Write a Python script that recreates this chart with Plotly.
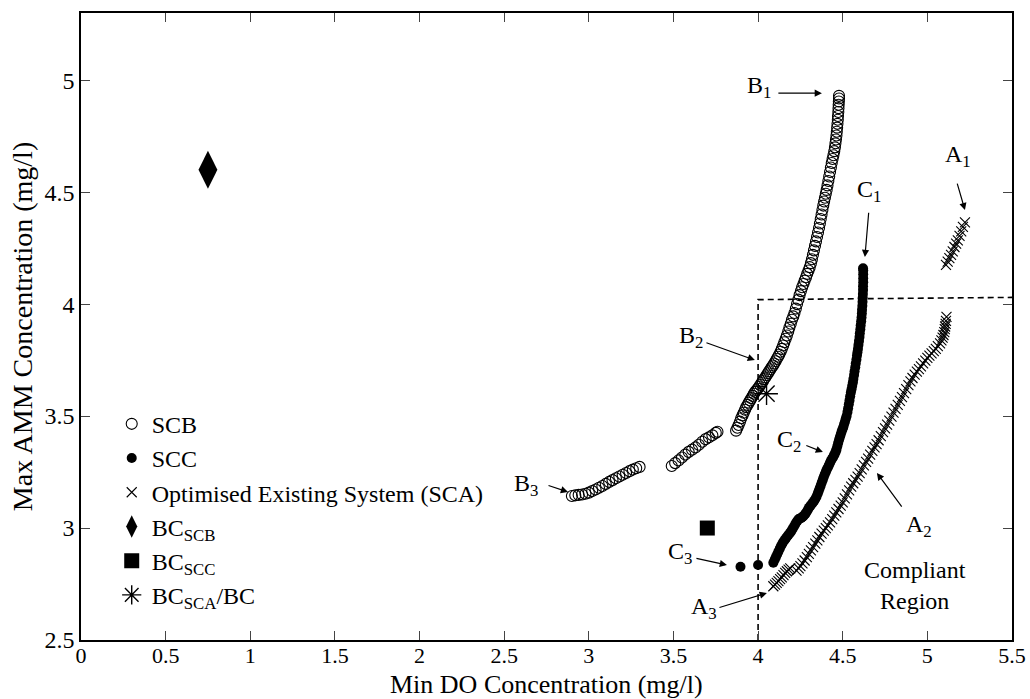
import plotly.graph_objects as go

# ---------------- data ----------------
# SCB: open circles (three clusters along the curve B3 -> B2 -> B1)
SCB_X = [2.90, 2.92, 2.94, 2.96, 2.98, 3.00, 3.02, 3.04, 3.06, 3.08, 3.10, 3.12, 3.14, 3.16, 3.18, 3.20, 3.22, 3.24, 3.26, 3.28, 3.30,
         3.49, 3.51, 3.53, 3.55, 3.57, 3.59, 3.61, 3.63, 3.65, 3.67, 3.69, 3.71, 3.73, 3.75, 3.76,
         3.870, 3.878, 3.885, 3.893, 3.900, 3.908, 3.915, 3.923, 3.930, 3.938, 3.945, 3.953, 3.960, 3.968, 3.975, 3.983,
         3.990, 3.998, 4.005, 4.013, 4.020, 4.028, 4.035, 4.043, 4.050, 4.058, 4.065, 4.073, 4.080, 4.088, 4.095, 4.103,
         4.110, 4.118, 4.125, 4.133, 4.140, 4.148, 4.155, 4.163, 4.170, 4.178, 4.185, 4.193, 4.200, 4.208, 4.215, 4.223,
         4.230, 4.238, 4.245, 4.253, 4.260, 4.268, 4.275, 4.283, 4.290, 4.298, 4.305, 4.312, 4.318, 4.324, 4.330, 4.336,
         4.342, 4.348, 4.354, 4.360, 4.365, 4.370, 4.375, 4.380, 4.385, 4.390, 4.395, 4.400, 4.405, 4.410, 4.415, 4.420,
         4.425, 4.430, 4.435, 4.440, 4.445, 4.450, 4.454, 4.457, 4.460, 4.463, 4.465, 4.467, 4.469, 4.471, 4.472, 4.474,
         4.475, 4.476, 4.477, 4.478, 4.478]
SCB_Y = [3.143, 3.146, 3.148, 3.150, 3.153, 3.158, 3.165, 3.172, 3.180, 3.188, 3.197, 3.206, 3.214, 3.222, 3.230, 3.238, 3.246, 3.254, 3.261, 3.267, 3.273,
         3.277, 3.290, 3.302, 3.315, 3.328, 3.340, 3.350, 3.360, 3.372, 3.385, 3.397, 3.405, 3.414, 3.425, 3.430,
         3.435, 3.448, 3.460, 3.475, 3.490, 3.503, 3.515, 3.528, 3.540, 3.550, 3.560, 3.570, 3.580, 3.590, 3.600, 3.608,
         3.615, 3.622, 3.630, 3.639, 3.648, 3.656, 3.665, 3.673, 3.682, 3.691, 3.700, 3.709, 3.718, 3.726, 3.735, 3.745,
         3.755, 3.765, 3.775, 3.787, 3.800, 3.815, 3.830, 3.845, 3.860, 3.878, 3.895, 3.912, 3.930, 3.945, 3.960, 3.980,
         4.000, 4.020, 4.040, 4.058, 4.075, 4.090, 4.105, 4.120, 4.135, 4.150, 4.165, 4.183, 4.200, 4.220, 4.240, 4.260,
         4.280, 4.300, 4.320, 4.340, 4.360, 4.380, 4.400, 4.420, 4.440, 4.458, 4.475, 4.493, 4.510, 4.530, 4.550, 4.570,
         4.590, 4.610, 4.630, 4.648, 4.665, 4.683, 4.700, 4.718, 4.735, 4.753, 4.770, 4.788, 4.805, 4.823, 4.840, 4.858,
         4.875, 4.890, 4.905, 4.918, 4.930]

# SCC: filled dots (two isolated points near C3, then the curve up to C1)
SCC_X = [3.896, 4.000,
         4.090, 4.098, 4.105, 4.113, 4.120, 4.128, 4.135, 4.143, 4.150, 4.158, 4.165, 4.173, 4.180, 4.188, 4.195, 4.203,
         4.210, 4.218, 4.225, 4.233, 4.240, 4.248, 4.255, 4.263, 4.270, 4.278, 4.285, 4.293, 4.300, 4.308, 4.315, 4.323,
         4.330, 4.338, 4.345, 4.352, 4.358, 4.364, 4.370, 4.376, 4.382, 4.388, 4.394, 4.400, 4.405, 4.412, 4.418, 4.424,
         4.430, 4.436, 4.442, 4.447, 4.452, 4.458, 4.463, 4.468, 4.473, 4.478, 4.483, 4.488, 4.493, 4.498, 4.503, 4.508,
         4.513, 4.518, 4.523, 4.528, 4.532, 4.536, 4.540, 4.544, 4.548, 4.552, 4.556, 4.560, 4.563, 4.567, 4.570, 4.574,
         4.577, 4.581, 4.584, 4.587, 4.590, 4.593, 4.596, 4.599, 4.601, 4.604, 4.606, 4.609, 4.611, 4.613, 4.614, 4.616,
         4.617, 4.618, 4.619, 4.620, 4.620, 4.621, 4.621, 4.621, 4.621, 4.620]
SCC_Y = [2.827, 2.835,
         2.845, 2.858, 2.870, 2.883, 2.895, 2.908, 2.920, 2.930, 2.940, 2.948, 2.955, 2.963, 2.970, 2.978, 2.985, 2.995,
         3.005, 3.015, 3.025, 3.033, 3.040, 3.043, 3.045, 3.050, 3.055, 3.062, 3.070, 3.080, 3.090, 3.098, 3.105, 3.113,
         3.120, 3.130, 3.140, 3.153, 3.165, 3.178, 3.190, 3.203, 3.215, 3.228, 3.240, 3.250, 3.260, 3.270, 3.280, 3.290,
         3.300, 3.308, 3.315, 3.323, 3.330, 3.340, 3.350, 3.365, 3.380, 3.393, 3.405, 3.418, 3.430, 3.440, 3.450, 3.463,
         3.475, 3.488, 3.500, 3.518, 3.535, 3.553, 3.570, 3.588, 3.605, 3.620, 3.635, 3.650, 3.665, 3.683, 3.700, 3.718,
         3.735, 3.753, 3.770, 3.785, 3.800, 3.818, 3.835, 3.853, 3.870, 3.888, 3.905, 3.923, 3.940, 3.958, 3.975, 3.993,
         4.010, 4.028, 4.045, 4.063, 4.080, 4.098, 4.115, 4.133, 4.150, 4.160]

# SCA: crosses (A3 cluster, main A2 curve, A1 cluster)
SCA_X = [4.090, 4.100, 4.110, 4.120, 4.130, 4.140, 4.150, 4.160, 4.170, 4.180, 4.190,
         4.227, 4.240, 4.250, 4.262, 4.275, 4.288, 4.300, 4.312, 4.325, 4.338, 4.350, 4.362, 4.375, 4.388, 4.400, 4.412,
         4.425, 4.438, 4.450, 4.462, 4.475, 4.488, 4.500, 4.512, 4.525, 4.538, 4.550, 4.562, 4.575, 4.588, 4.600, 4.612,
         4.625, 4.638, 4.650, 4.662, 4.675, 4.688, 4.700, 4.712, 4.725, 4.738, 4.750, 4.762, 4.775, 4.788, 4.800, 4.812,
         4.825, 4.838, 4.850, 4.862, 4.875, 4.888, 4.900, 4.912, 4.925, 4.938, 4.950, 4.962, 4.975, 4.988, 5.000, 5.012,
         5.025, 5.038, 5.050, 5.062, 5.075, 5.083, 5.090, 5.095, 5.100, 5.103, 5.105, 5.108, 5.110, 5.113,
         5.110, 5.120, 5.130, 5.140, 5.150, 5.160, 5.170, 5.180, 5.190, 5.200, 5.210, 5.222]
SCA_Y = [2.740, 2.747, 2.755, 2.763, 2.772, 2.780, 2.790, 2.800, 2.807, 2.814, 2.820,
         2.810, 2.820, 2.830, 2.842, 2.855, 2.870, 2.885, 2.900, 2.915, 2.930, 2.945, 2.960, 2.975, 2.988, 3.000, 3.012,
         3.025, 3.040, 3.055, 3.070, 3.085, 3.100, 3.115, 3.132, 3.150, 3.168, 3.185, 3.200, 3.215, 3.230, 3.245, 3.262,
         3.280, 3.295, 3.310, 3.328, 3.345, 3.360, 3.375, 3.392, 3.410, 3.428, 3.445, 3.462, 3.480, 3.498, 3.515, 3.532,
         3.550, 3.568, 3.585, 3.602, 3.620, 3.638, 3.655, 3.670, 3.685, 3.698, 3.710, 3.722, 3.735, 3.748, 3.760, 3.770,
         3.780, 3.790, 3.800, 3.812, 3.825, 3.838, 3.850, 3.862, 3.875, 3.888, 3.900, 3.912, 3.925, 3.943,
         4.175, 4.190, 4.205, 4.220, 4.235, 4.255, 4.270, 4.285, 4.305, 4.325, 4.345, 4.365]

BC_SCB = (0.75, 4.60)
BC_SCC = (3.70, 3.00)
BC_SCA = (4.05, 3.60)

BOUND_X = [4.0, 4.0, 5.5]
BOUND_Y = [2.5, 4.02, 4.03]

X_TICKS = [0, 0.5, 1, 1.5, 2, 2.5, 3, 3.5, 4, 4.5, 5, 5.5]
Y_TICKS = [2.5, 3, 3.5, 4, 4.5, 5]

FONT = "Liberation Serif"

fig = go.Figure()

fig.add_trace(go.Scatter(x=BOUND_X, y=BOUND_Y, mode="lines", showlegend=False,
                         line=dict(color="black", width=1.6, dash="6px,4px"), hoverinfo="skip"))

fig.add_trace(go.Scatter(x=SCB_X, y=SCB_Y, mode="markers", name="SCB",
                         marker=dict(symbol="circle-open", size=11, color="black", line=dict(width=1.1, color="black"))))
fig.add_trace(go.Scatter(x=SCC_X, y=SCC_Y, mode="markers", name="SCC",
                         marker=dict(symbol="circle", size=10, color="black", line=dict(width=0))))
fig.add_trace(go.Scatter(x=SCA_X, y=SCA_Y, mode="markers", name="Optimised Existing System (SCA)",
                         marker=dict(symbol="x-thin", size=10, color="black", line=dict(width=1.1, color="black"))))
fig.add_trace(go.Scatter(x=[BC_SCB[0]], y=[BC_SCB[1]], mode="markers", name="BC<sub>SCB</sub>",
                         marker=dict(symbol="diamond-tall", size=27, color="black")))
fig.add_trace(go.Scatter(x=[BC_SCC[0]], y=[BC_SCC[1]], mode="markers", name="BC<sub>SCC</sub>",
                         marker=dict(symbol="square", size=15, color="black")))
fig.add_trace(go.Scatter(x=[BC_SCA[0]], y=[BC_SCA[1]], mode="markers", name="BC<sub>SCA</sub>/BC",
                         marker=dict(symbol="asterisk-open", size=19, color="black", line=dict(width=1.4, color="black"))))

# labels
labels = [
    ("B<sub>1</sub>", 3.920, 4.968),
    ("B<sub>2</sub>", 3.520, 3.852),
    ("B<sub>3</sub>", 2.546, 3.191),
    ("C<sub>1</sub>", 4.570, 4.504),
    ("C<sub>2</sub>", 4.100, 3.388),
    ("C<sub>3</sub>", 3.455, 2.888),
    ("A<sub>1</sub>", 5.093, 4.660),
    ("A<sub>2</sub>", 4.862, 3.010),
    ("A<sub>3</sub>", 3.592, 2.645),
]
annotations = []
for t, x, y in labels:
    annotations.append(dict(text=t, x=x, y=y, xref="x", yref="y", xanchor="left", yanchor="middle",
                            showarrow=False, font=dict(family=FONT, size=24, color="black")))
annotations.append(dict(text="Compliant<br>Region", x=4.926, y=2.742, xref="x", yref="y",
                        xanchor="center", yanchor="middle", showarrow=False,
                        font=dict(family=FONT, size=24, color="black")))
# x-axis title (placed as text below the tick labels)
annotations.append(dict(text="Min DO Concentration (mg/l)", x=0.5, y=-0.0710, xref="paper", yref="paper",
                        xanchor="center", yanchor="middle", showarrow=False, borderpad=0,
                        font=dict(family=FONT, size=26, color="black")))

arrows = [
    ((4.111, 4.942), (4.377, 4.942)),
    ((3.686, 3.830), (3.981, 3.750)),
    ((2.753, 3.192), (2.877, 3.161)),
    ((4.654, 4.415), (4.631, 4.210)),
    ((4.276, 3.371), (4.383, 3.339)),
    ((3.627, 2.866), (3.816, 2.835)),
    ((5.174, 4.545), (5.222, 4.420)),
    ((4.855, 3.089), (4.702, 3.246)),
    ((3.763, 2.643), (4.052, 2.710)),
]
for (tx, ty), (hx, hy) in arrows:
    annotations.append(dict(text="", x=hx, y=hy, ax=tx, ay=ty, xref="x", yref="y", axref="x", ayref="y",
                            showarrow=True, arrowhead=2, arrowsize=1.2, arrowwidth=1.2, arrowcolor="black",
                            standoff=0, startstandoff=0, font=dict(size=2)))

fig.update_layout(
    width=1030, height=699,
    margin=dict(l=81, r=18, t=13, b=59, autoexpand=False),
    paper_bgcolor="white", plot_bgcolor="white",
    font=dict(family=FONT, size=24, color="black"),
    annotations=annotations,
    showlegend=True,
    legend=dict(x=0.033, y=0.38, xanchor="left", yanchor="top", bgcolor="rgba(0,0,0,0)",
                font=dict(family=FONT, size=24, color="black"), tracegroupgap=0),
    xaxis=dict(range=[0, 5.5], tickvals=X_TICKS, ticks="inside", ticklen=9, tickwidth=1,
               showline=True, linewidth=1.6, linecolor="black", mirror="ticks", showgrid=False, zeroline=False,
               automargin=False, ticklabelstandoff=-5, tickfont=dict(family=FONT, size=22)),
    yaxis=dict(range=[2.5, 5.3], tickvals=Y_TICKS, ticks="inside", ticklen=9, tickwidth=1,
               showline=True, linewidth=1.6, linecolor="black", mirror="ticks", showgrid=False, zeroline=False,
               automargin=False,
               tickfont=dict(family=FONT, size=24), title=dict(text="Max AMM Concentration (mg/l)",
               font=dict(family=FONT, size=28), standoff=4)),
)

fig.write_html("out.html")
